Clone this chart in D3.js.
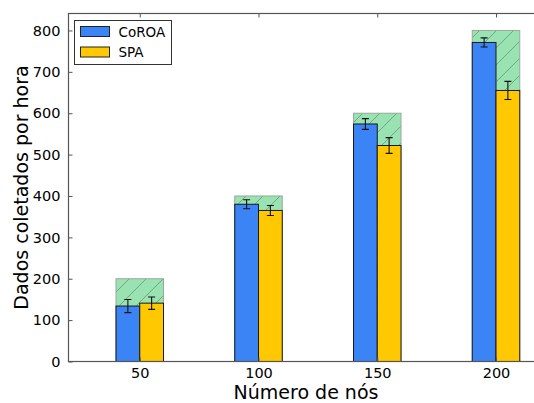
<!DOCTYPE html>
<html><head><meta charset="utf-8">
<script src="https://cdn.jsdelivr.net/npm/d3@7"></script>
<style>body{margin:0;background:#fff}svg{display:block}text{font-family:"DejaVu Sans",sans-serif;fill:#000}</style>
</head><body><svg id="c" width="534" height="403"></svg>
<script>
const categories = [50, 100, 150, 200];
const seriesNames = ["CoROA", "SPA"];
const coroa = [134, 380, 574, 771];
const coroaErr = [16, 11, 13, 11];
const spa = [141, 365, 522, 655];
const spaErr = [15, 12, 19, 22];
const maxValues = [200, 400, 600, 800];
const yTicks = [0, 100, 200, 300, 400, 500, 600, 700, 800];
const colors = ["#3b84f6", "#ffc800"];

const svg = d3.select("#c");
const L = 68.5, R = 543.5, T = 13.5, B = 361.5;
const x = d3.scaleLinear().domain([20, 220]).range([L, R]);
const y = d3.scaleLinear().domain([0, 841]).range([B, T]);
const halfGroup = 10; // each bar spans 10 x-units

const defs = svg.append("defs");
const pat = defs.append("pattern").attr("id", "hatch").attr("patternUnits", "userSpaceOnUse")
  .attr("width", 17).attr("height", 17);
pat.append("rect").attr("width", 17).attr("height", 17).attr("fill", "#99e2b2");
pat.append("path").attr("d", "M-4,4 L4,-4 M0,17 L17,0 M13,21 L21,13").attr("stroke", "#6f9e7e").attr("stroke-width", 0.9);
defs.append("clipPath").attr("id", "clip").append("rect").attr("x", L).attr("y", T).attr("width", R - L).attr("height", B - T);

const g = svg.append("g").attr("clip-path", "url(#clip)");
// theoretical max (hatched)
g.selectAll("rect.max").data(categories).enter().append("rect")
  .attr("x", (d) => x(d - halfGroup)).attr("width", (d) => x(d + halfGroup) - x(d - halfGroup))
  .attr("y", (d, i) => y(maxValues[i])).attr("height", (d, i) => y(0) - y(maxValues[i]))
  .attr("fill", "url(#hatch)").attr("stroke", "#9aa89e").attr("stroke-width", 1);

const series = [coroa, spa];
const errs = [coroaErr, spaErr];
series.forEach((vals, s) => {
  g.selectAll("rect.s" + s).data(categories).enter().append("rect")
    .attr("x", (d) => x(d - halfGroup + s * halfGroup)).attr("width", (d) => x(d + s * halfGroup) - x(d - halfGroup + s * halfGroup))
    .attr("y", (d, i) => y(vals[i])).attr("height", (d, i) => y(0) - y(vals[i]))
    .attr("fill", colors[s]).attr("stroke", "#1a1a1a").attr("stroke-width", 1);
});
series.forEach((vals, s) => {
  categories.forEach((d, i) => {
    const cx = x(d - halfGroup / 2 + s * halfGroup);
    const e = errs[s][i];
    const gg = g.append("g").attr("stroke", "#111").attr("stroke-width", 1.1);
    gg.append("line").attr("x1", cx).attr("x2", cx).attr("y1", y(vals[i] + e)).attr("y2", y(vals[i] - e));
    gg.append("line").attr("x1", cx - 3.5).attr("x2", cx + 3.5).attr("y1", y(vals[i] + e)).attr("y2", y(vals[i] + e));
    gg.append("line").attr("x1", cx - 3.5).attr("x2", cx + 3.5).attr("y1", y(vals[i] - e)).attr("y2", y(vals[i] - e));
  });
});

// frame
svg.append("rect").attr("x", L).attr("y", T).attr("width", R - L).attr("height", B - T)
  .attr("fill", "none").attr("stroke", "#555").attr("stroke-width", 1.2);

// axes (inward ticks)
const yAxis = d3.axisLeft(y).tickValues(yTicks).tickSizeInner(-4).tickSizeOuter(0).tickPadding(8);
const ya = svg.append("g").attr("transform", `translate(${L},0)`).call(yAxis);
ya.select(".domain").remove();
ya.selectAll("line").attr("stroke", "#555");
ya.selectAll("text").style("font-size", "14.5px").attr("font-family", "DejaVu Sans").attr("fill", "#111");

const xAxis = d3.axisBottom(x).tickValues(categories).tickSizeInner(-4).tickSizeOuter(0).tickPadding(6);
const xa = svg.append("g").attr("transform", `translate(0,${B})`).call(xAxis);
xa.select(".domain").remove();
xa.selectAll("line").attr("stroke", "#555");
xa.selectAll("text").style("font-size", "14.5px").attr("font-family", "DejaVu Sans").attr("fill", "#111");

const xTop = d3.axisTop(x).tickValues(categories).tickSizeInner(-4).tickSizeOuter(0).tickFormat("");
const xt = svg.append("g").attr("transform", `translate(0,${T})`).call(xTop);
xt.select(".domain").remove();
xt.selectAll("line").attr("stroke", "#555");

// labels
svg.append("text").attr("x", (L + R) / 2).attr("y", 399).attr("text-anchor", "middle")
  .style("font-size", "19px").text("Número de nós");
svg.append("text").attr("transform", `translate(28,${(T + B) / 2}) rotate(-90)`).attr("text-anchor", "middle")
  .style("font-size", "19px").text("Dados coletados por hora");

// legend
const lg = svg.append("g").attr("transform", "translate(74.5,20.5)");
lg.append("rect").attr("width", 97).attr("height", 44).attr("fill", "#fff").attr("stroke", "#333").attr("stroke-width", 1);
seriesNames.forEach((n, i) => {
  lg.append("rect").attr("x", 6).attr("y", 6 + i * 20.5).attr("width", 29).attr("height", 10)
    .attr("fill", colors[i]).attr("stroke", "#222").attr("stroke-width", 1);
  lg.append("text").attr("x", 44).attr("y", 16 + i * 20.5).style("font-size", "13.5px").text(n);
});
</script></body></html>
